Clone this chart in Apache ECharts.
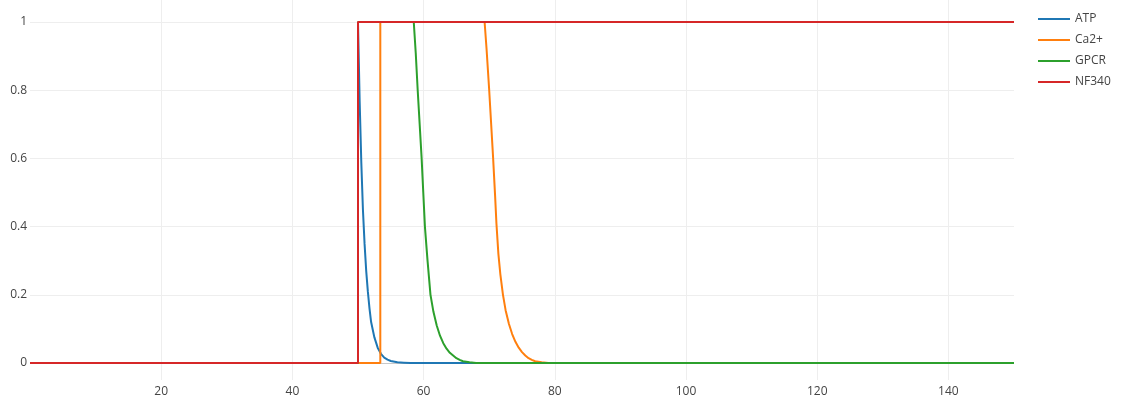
<!DOCTYPE html>
<html>
<head>
<meta charset="utf-8">
<script src="https://cdn.jsdelivr.net/npm/echarts@6/dist/echarts.min.js"></script>
<style>
  html, body { margin: 0; padding: 0; background: #fff; }
  #chart { width: 1131px; height: 408px; }
</style>
</head>
<body>
<div id="chart"></div>
<script>
// Normalised activity over time for each component, as [time, level] pairs
const seriesNames = ['ATP', 'Ca2+', 'GPCR', 'NF340'];
const seriesColors = ['#1f77b4', '#ff7f0e', '#2ca02c', '#d62728'];

const atpData = [
  [0, 0], [50, 0], [50, 1], [50.25, 0.77], [50.5, 0.59], [50.75, 0.45],
  [51, 0.35], [51.25, 0.27], [51.5, 0.21], [51.75, 0.16], [52, 0.12],
  [52.5, 0.075], [53, 0.045], [53.5, 0.027], [54, 0.016], [54.5, 0.01],
  [55, 0.006], [56, 0.002], [57, 0.001], [58, 0], [150, 0]
];

const ca2Data = [
  [0, 0], [53.4, 0], [53.4, 1], [69.3, 1], [69.6, 0.92], [70, 0.8],
  [70.3, 0.7], [70.6, 0.6], [70.9, 0.49], [71.1, 0.41], [71.4, 0.32],
  [71.7, 0.26], [72.1, 0.2], [72.5, 0.155], [73, 0.115], [73.5, 0.085],
  [74, 0.062], [74.5, 0.045], [75, 0.032], [75.5, 0.022], [76, 0.014],
  [76.5, 0.009], [77, 0.005], [78, 0.002], [79, 0], [150, 0]
];

const gpcrData = [
  [0, 0], [50, 0], [50, 1], [58.5, 1], [58.8, 0.91], [59.1, 0.8],
  [59.4, 0.7], [59.7, 0.6], [59.95, 0.5], [60.2, 0.4], [60.6, 0.3],
  [61.05, 0.2], [61.5, 0.15], [62, 0.11], [62.5, 0.08], [63, 0.058],
  [63.5, 0.042], [64, 0.03], [64.5, 0.022], [65, 0.014], [65.5, 0.009],
  [66, 0.005], [67, 0.002], [68, 0], [150, 0]
];

const nf340Data = [
  [0, 0], [50, 0], [50, 1], [150, 1]
];

const seriesData = [atpData, ca2Data, gpcrData, nf340Data];

const timeRange = [0, 150];
const timeStep = 20;
const levelRange = [0, 1];
const levelStep = 0.2;

const font = '"Open Sans", "Noto Sans", sans-serif';
const textColor = '#444';
const gridColor = '#eeeeee';

const chart = echarts.init(document.getElementById('chart'), null, { renderer: 'canvas' });

chart.setOption({
  animation: false,
  backgroundColor: '#ffffff',
  textStyle: { fontFamily: font },
  grid: [
    // data area: level 0..1
    { left: 30, right: 117, top: 22, bottom: 45, containLabel: false },
    // full-height frame carrying the time axis and its vertical grid
    { left: 30, right: 117, top: 0, bottom: 28, containLabel: false }
  ],
  legend: {
    orient: 'vertical',
    left: 1033,
    top: 7,
    icon: 'rect',
    itemWidth: 32,
    itemHeight: 2,
    itemGap: 7,
    data: seriesNames,
    textStyle: { fontFamily: font, fontSize: 12, color: textColor, lineHeight: 14 }
  },
  xAxis: [
    {
      gridIndex: 0, type: 'value', min: timeRange[0], max: timeRange[1],
      show: false
    },
    {
      gridIndex: 1, type: 'value', min: timeRange[0], max: timeRange[1], interval: timeStep,
      axisLine: { show: false },
      axisTick: { show: false },
      axisLabel: {
        margin: 6, fontSize: 12, color: textColor, fontFamily: font,
        formatter: v => (v <= timeRange[0] || v >= timeRange[1]) ? '' : String(v)
      },
      splitLine: {
        show: true, showMinLine: false, showMaxLine: false,
        lineStyle: { color: gridColor, width: 1 }
      }
    }
  ],
  yAxis: [
    {
      gridIndex: 0, type: 'value', min: levelRange[0], max: levelRange[1], interval: levelStep,
      axisLine: { show: false },
      axisTick: { show: false },
      axisLabel: { margin: 3, fontSize: 12, color: textColor, fontFamily: font },
      splitLine: {
        show: true,
        lineStyle: { color: ['#c8c8c8', gridColor, gridColor, gridColor, gridColor, gridColor], width: 1 }
      }
    },
    {
      gridIndex: 1, type: 'value', min: levelRange[0], max: levelRange[1], show: false
    }
  ],
  series: seriesNames.map((name, i) => ({
    name: name,
    type: 'line',
    xAxisIndex: 0,
    yAxisIndex: 0,
    data: seriesData[i],
    showSymbol: false,
    symbol: 'none',
    smooth: false,
    clip: false,
    color: seriesColors[i],
    lineStyle: { width: 2, color: seriesColors[i] },
    emphasis: { disabled: true }
  }))
});
</script>
</body>
</html>
